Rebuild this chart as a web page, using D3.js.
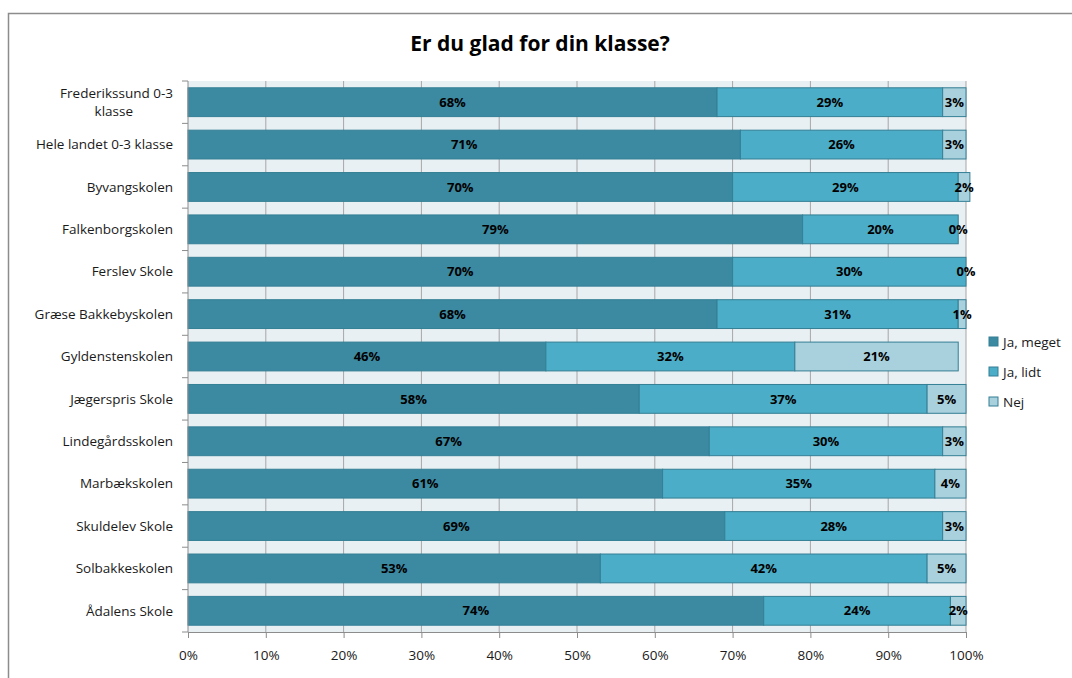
<!DOCTYPE html>
<html>
<head>
<meta charset="utf-8">
<script src="https://cdn.jsdelivr.net/npm/d3@7/dist/d3.min.js"></script>
<style>
  body { margin: 0; background: #fff; }
  svg { font-family: "Open Sans", "Noto Sans", sans-serif; }
</style>
</head>
<body>
<div id="chart"></div>
<script>
//Chart data
var schools = ['Frederikssund 0-3 klasse', 'Hele landet 0-3 klasse', 'Byvangskolen', 'Falkenborgskolen',
  'Ferslev Skole', 'Græse Bakkebyskolen', 'Gyldenstenskolen', 'Jægerspris Skole', 'Lindegårdsskolen',
  'Marbækskolen', 'Skuldelev Skole', 'Solbakkeskolen', 'Ådalens Skole'];
var series = ['Ja, meget', 'Ja, lidt', 'Nej'];
var jaMeget = [68, 71, 70, 79, 70, 68, 46, 58, 67, 61, 69, 53, 74];
var jaLidt  = [29, 26, 29, 20, 30, 31, 32, 37, 30, 35, 28, 42, 24];
var nej     = [3, 3, 1.5, 0, 0, 1, 21, 5, 3, 4, 3, 5, 2];
var xTicks = [0, 10, 20, 30, 40, 50, 60, 70, 80, 90, 100];

var colors = ['#3b8aa2', '#4badc7', '#a8d0dd'];

//Build rows for the stack layout
var rows = schools.map(function(s, i) {
  return { school: s, 'Ja, meget': jaMeget[i], 'Ja, lidt': jaLidt[i], 'Nej': nej[i] };
});
var stacked = d3.stack().keys(series)(rows);

var W = 1072, H = 678;
var margin = { top: 81, left: 188, right: W - 966, bottom: H - 632 };
var width = W - margin.left - margin.right,
    height = H - margin.top - margin.bottom;

var svg = d3.select('#chart').append('svg')
  .attr('width', W)
  .attr('height', H);

//Outer frame
svg.append('rect')
  .attr('x', 8.5).attr('y', 13.5)
  .attr('width', W + 10).attr('height', H + 10)
  .attr('fill', 'none')
  .attr('stroke', '#8c8c8c')
  .attr('stroke-width', 1.5);

//Title
svg.append('text')
  .attr('x', 540).attr('y', 51)
  .attr('text-anchor', 'middle')
  .style('font-size', '21px')
  .style('font-weight', 'bold')
  .text('Er du glad for din klasse?');

var g = svg.append('g')
  .attr('transform', 'translate(' + margin.left + ',' + margin.top + ')');

var xScale = d3.scaleLinear().domain([0, 100]).range([0, width]);
var yScale = d3.scaleBand().domain(schools).range([0, height]).paddingInner(0.32).paddingOuter(0.16);

//Plot background
g.append('rect')
  .attr('width', width).attr('height', height)
  .attr('fill', '#e9f0f3');

//Grid lines
g.selectAll('line.grid')
  .data(xTicks.slice(1))
  .enter()
  .append('line')
  .attr('class', 'grid')
  .attr('x1', function(d) { return xScale(d); })
  .attr('x2', function(d) { return xScale(d); })
  .attr('y1', 0).attr('y2', height)
  .attr('stroke', '#a6a6a6')
  .attr('stroke-width', 1);

//Bars
var layer = g.selectAll('g.layer')
  .data(stacked)
  .enter()
  .append('g')
  .attr('class', 'layer')
  .attr('fill', function(d, i) { return colors[i]; });

layer.selectAll('rect')
  .data(function(d) { return d; })
  .enter()
  .append('rect')
  .attr('x', function(d) { return xScale(d[0]); })
  .attr('y', function(d) { return yScale(d.data.school); })
  .attr('width', function(d) { return xScale(d[1]) - xScale(d[0]); })
  .attr('height', yScale.bandwidth())
  .attr('stroke', '#347f95')
  .attr('stroke-width', 1);

//Value labels
layer.selectAll('text')
  .data(function(d) { return d; })
  .enter()
  .append('text')
  .attr('x', function(d) { return xScale((d[0] + d[1]) / 2); })
  .attr('y', function(d) { return yScale(d.data.school) + yScale.bandwidth() / 2; })
  .attr('dy', '0.36em')
  .attr('text-anchor', 'middle')
  .attr('fill', '#000')
  .style('font-size', '13px')
  .style('font-weight', 'bold')
  .text(function(d) { return Math.round(d[1] - d[0]) + '%'; });

//Y axis line
g.append('line')
  .attr('x1', 0).attr('x2', 0)
  .attr('y1', 0).attr('y2', height)
  .attr('stroke', '#8c8c8c');

//category boundary ticks
var bounds = schools.map(function(s) { return yScale(s) - yScale.step() * yScale.paddingInner() / 2; });
bounds.push(height);
g.selectAll('line.ytick')
  .data(bounds)
  .enter()
  .append('line')
  .attr('class', 'ytick')
  .attr('x1', -6).attr('x2', 0)
  .attr('y1', function(d) { return d; })
  .attr('y2', function(d) { return d; })
  .attr('stroke', '#8c8c8c');

//Category labels
var labels = g.selectAll('text.cat')
  .data(schools)
  .enter()
  .append('text')
  .attr('class', 'cat')
  .attr('text-anchor', 'end')
  .attr('fill', '#1a1a1a')
  .style('font-size', '13.5px')
  .attr('y', function(d) { return yScale(d) + yScale.bandwidth() / 2; });

labels.each(function(d) {
  var t = d3.select(this);
  var lines = d === 'Frederikssund 0-3 klasse' ? ['Frederikssund 0-3', 'klasse'] : [d];
  lines.forEach(function(l, i) {
    t.append('tspan')
      .attr('x', l === 'klasse' ? -55 : -15)
      .attr('dy', i === 0 ? (lines.length > 1 ? '-0.3em' : '0.35em') : '1.35em')
      .text(l);
  });
});

//X axis
var xAxis = d3.axisBottom(xScale)
  .tickValues(xTicks)
  .tickSize(6)
  .tickFormat(function(d) { return d + '%'; });
var xG = g.append('g')
  .attr('transform', 'translate(0,' + height + ')')
  .call(xAxis);
xG.select('.domain').attr('stroke', '#8c8c8c');
xG.selectAll('.tick line').attr('stroke', '#8c8c8c');
xG.selectAll('.tick text')
  .attr('dy', '1.4em')
  .attr('fill', '#1a1a1a')
  .style('font-size', '13.5px')
  .style('font-family', '"Open Sans", "Noto Sans", sans-serif');

//Legend
var legend = svg.selectAll('g.legend')
  .data(series)
  .enter()
  .append('g')
  .attr('class', 'legend')
  .attr('transform', function(d, i) { return 'translate(989,' + (337 + i * 30) + ')'; });

legend.append('rect')
  .attr('width', 9).attr('height', 9)
  .attr('fill', function(d, i) { return colors[i]; })
  .attr('stroke', '#347f95');

legend.append('text')
  .attr('x', 14).attr('y', 5)
  .attr('dy', '0.35em')
  .style('font-size', '13.5px')
  .attr('fill', '#1a1a1a')
  .text(function(d) { return d; });
</script>
</body>
</html>
